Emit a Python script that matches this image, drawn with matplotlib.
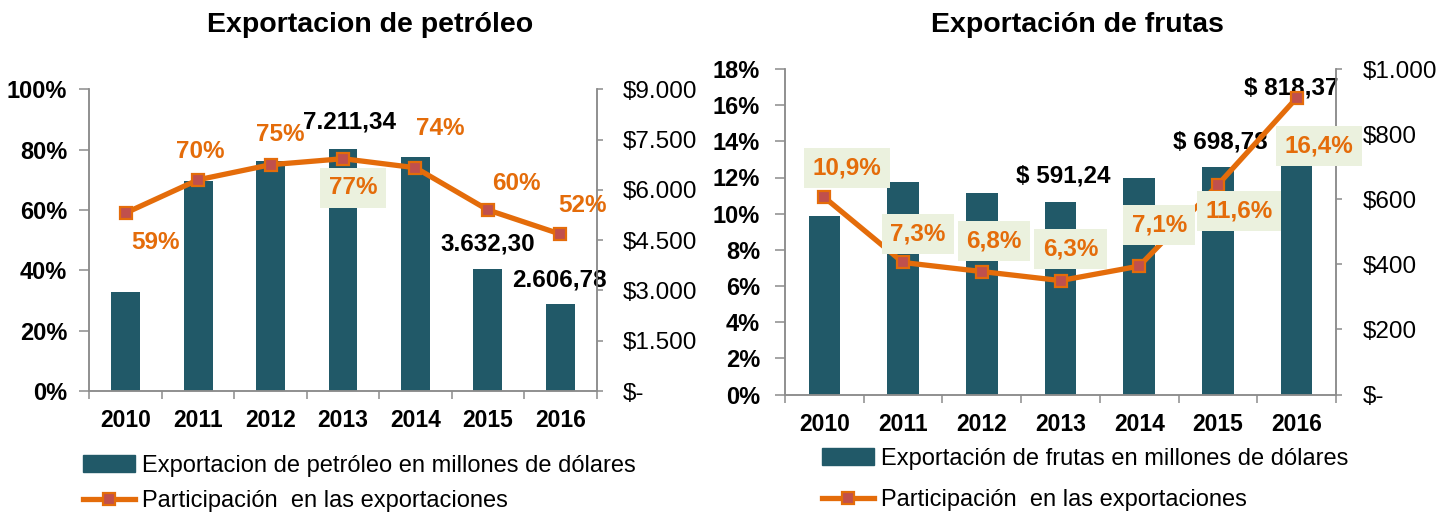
import numpy as np
import matplotlib
matplotlib.use('Agg')
import matplotlib.pyplot as plt
from matplotlib.lines import Line2D
from matplotlib.patches import Patch

plt.rcParams['font.family'] = ['Liberation Sans', 'DejaVu Sans']

years = ['2010', '2011', '2012', '2013', '2014', '2015', '2016']

# exportacion de petroleo (millones USD) y participacion (%)
petroleo = [2960, 6270, 6860, 7211.34, 6970, 3632.30, 2606.78]
part_petroleo = [59, 70, 75, 77, 74, 60, 52]

# exportacion de frutas (millones USD) y participacion (%)
frutas = [547, 652, 619, 591.24, 665, 698.78, 818.37]
part_frutas = [10.9, 7.3, 6.8, 6.3, 7.1, 11.6, 16.4]

# which bars carry a value label
lab_petroleo = [3, 5, 6]
lab_frutas = [3, 5, 6]

BAR = '#215968'
ORANGE = '#E46C0A'
RED = '#C0504D'
BOX = '#EBF1DE'
GREY = '#8C8C8C'

W, H = 1452, 518
fig = plt.figure(figsize=(W / 100, H / 100), dpi=100)


def fmt_es(v, dec):
    s = f'{v:,.{dec}f}'
    return s.replace(',', '#').replace('.', ',').replace('#', '.')


def usd_tick(v):
    return '$-' if v == 0 else '$' + fmt_es(v, 0)


def panel(px, bars, pct, pct_ticks, pct_labels, usd_ticks, pct_txt, pct_off, boxed,
          bar_idx, bar_txt, bar_off, ypad_left):
    left, top, right, bottom = px
    ax = fig.add_axes([left / W, 1 - bottom / H, (right - left) / W, (bottom - top) / H])
    ax2 = ax.twinx()
    ax.set_zorder(ax2.get_zorder() + 1)
    ax.patch.set_visible(False)

    x = np.arange(len(years))
    ax2.bar(x, bars, width=0.4, color=BAR, zorder=2)
    ax.plot(x, pct, color=ORANGE, lw=3.8, marker='s', ms=9, mfc=RED, mec=ORANGE,
            mew=1.6, zorder=3)

    ax.set_xlim(-0.5, len(years) - 0.5)
    ax.set_ylim(pct_ticks[0], pct_ticks[-1])
    ax2.set_ylim(usd_ticks[0], usd_ticks[-1])

    ax.set_yticks(pct_ticks)
    ax.set_yticklabels(pct_labels, fontweight='bold', fontsize=17)
    ax2.set_yticks(usd_ticks)
    ax2.set_yticklabels([usd_tick(v) for v in usd_ticks], fontsize=17.5)

    ax.set_xticks(x)
    ax.set_xticklabels(years, fontweight='bold', fontsize=16.5)
    ax.set_xticks(np.arange(-0.5, len(years)), minor=True)
    ax.tick_params(axis='x', which='major', length=0, pad=13)
    ax.tick_params(axis='x', which='minor', length=6, width=1.1, color=GREY, direction='out')
    ax.tick_params(axis='y', length=7, width=1.1, color=GREY, direction='out', pad=ypad_left)
    ax2.tick_params(axis='y', length=4, width=1.1, color=GREY, direction='out', pad=15)

    for a in (ax, ax2):
        a.spines['top'].set_visible(False)
        for s in ('left', 'right', 'bottom'):
            a.spines[s].set_color(GREY)
            a.spines[s].set_linewidth(1.1)

    for i, v in enumerate(pct):
        kw = {}
        if boxed[i]:
            kw['bbox'] = dict(boxstyle='square,pad=0.35', fc=BOX, ec='none')
        ax.annotate(pct_txt[i], (i, v), xytext=pct_off[i], textcoords='offset pixels',
                    ha='center', va='center', color=ORANGE, fontsize=17.5,
                    fontweight='bold', zorder=5, **kw)

    for k, i in enumerate(bar_idx):
        ax2.annotate(bar_txt[k], (i, bars[i]), xytext=bar_off[k], textcoords='offset pixels',
                     ha='center', va='center', color='black', fontsize=17.5, fontweight='bold')
    return ax, ax2


# --- panel izquierdo: petroleo
panel((89.3, 89.3, 596.7, 391), petroleo, part_petroleo,
      [0, 20, 40, 60, 80, 100], [f'{v}%' for v in [0, 20, 40, 60, 80, 100]],
      [0, 1500, 3000, 4500, 6000, 7500, 9000],
      [f'{v}%' for v in part_petroleo],
      [(30, -30), (2, 28), (10, 30), (10, -29), (25, 39), (28, 26), (22, 29)],
      [False, False, False, True, False, False, False],
      lab_petroleo, [fmt_es(petroleo[i], 2) for i in lab_petroleo],
      [(7, 27), (0, 25), (-1, 24)], 9)

# --- panel derecho: frutas
panel((785, 69, 1336, 394.5), frutas, part_frutas,
      list(range(0, 19, 2)), [f'{v}%' for v in range(0, 19, 2)],
      [0, 200, 400, 600, 800, 1000],
      [fmt_es(v, 1) + '%' for v in part_frutas],
      [(23, 29), (15, 28), (12, 31), (10, 32), (20, 41), (21, -26), (22, -48)],
      [True] * 7,
      lab_frutas, ['$ ' + fmt_es(frutas[i], 2) for i in lab_frutas],
      [(3, 26), (2, 25), (-5, 40)], 11)

fig.text(370 / W, 1 - 25 / H, 'Exportacion de petróleo', ha='center', va='center',
         fontsize=20.5, fontweight='bold')
fig.text(1077 / W, 1 - 25 / H, 'Exportación de frutas', ha='center', va='center',
         fontsize=20.5, fontweight='bold')

line_h = Line2D([], [], color=ORANGE, lw=3.8, marker='s', ms=9, mfc=RED, mec=ORANGE, mew=1.6)

fig.legend([Patch(color=BAR), line_h],
           ['Exportacion de petróleo en millones de dólares', 'Participación  en las exportaciones'],
           loc='upper left', bbox_to_anchor=(83 / W, 1 - 455 / H), frameon=False, fontsize=17,
           handlelength=2.2, handletextpad=0.3, labelspacing=0.55, borderpad=0, borderaxespad=0)
fig.legend([Patch(color=BAR), line_h],
           ['Exportación de frutas en millones de dólares', 'Participación  en las exportaciones'],
           loc='upper left', bbox_to_anchor=(822 / W, 1 - 448 / H), frameon=False, fontsize=17,
           handlelength=2.2, handletextpad=0.3, labelspacing=0.8, borderpad=0, borderaxespad=0)

fig.savefig('out.png', dpi=100)
